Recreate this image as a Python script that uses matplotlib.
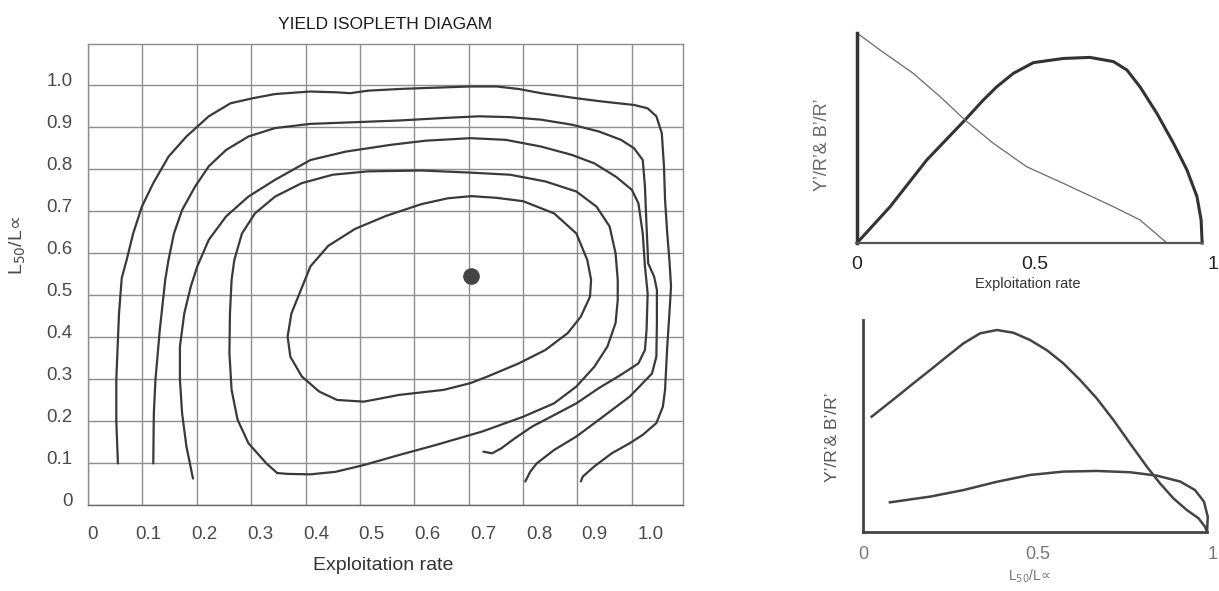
import numpy as np
import matplotlib
matplotlib.use("Agg")
import matplotlib.pyplot as plt

plt.rcParams['font.family'] = ['Liberation Sans', 'DejaVu Sans']

#------------------------------------------------
# data (E = exploitation rate, L50/Loo)
grid_x = [0, 0.1, 0.2, 0.3, 0.4, 0.5, 0.6, 0.7, 0.8, 0.9, 1.0]
grid_y = [0, 0.1, 0.2, 0.3, 0.4, 0.5, 0.6, 0.7, 0.8, 0.9, 1.0]
xtick_labels = ['0', '0.1', '0.2', '0.3', '0.4', '0.5', '0.6', '0.7', '0.8', '0.9', '1.0']
ytick_labels = ['0', '0.1', '0.2', '0.3', '0.4', '0.5', '0.6', '0.7', '0.8', '0.9', '1.0']

# isopleth 1 (outermost)
iso1_x = [0.055, 0.052, 0.052, 0.057, 0.062, 0.071, 0.083, 0.099, 0.120, 0.148, 0.181, 0.222, 0.262,
          0.303, 0.344, 0.409, 0.458, 0.482, 0.515, 0.572, 0.613, 0.703, 0.751, 0.792, 0.833, 0.898,
          0.947, 1.004, 1.029, 1.045, 1.055, 1.059, 1.061, 1.065, 1.069, 1.072, 1.069, 1.065, 1.061,
          1.057, 1.045, 1.020, 0.996, 0.963, 0.931, 0.910, 0.906]
iso1_y = [0.099, 0.200, 0.298, 0.456, 0.540, 0.583, 0.646, 0.710, 0.766, 0.829, 0.877, 0.925, 0.956,
          0.968, 0.978, 0.984, 0.982, 0.980, 0.986, 0.990, 0.992, 0.996, 0.996, 0.990, 0.980, 0.968,
          0.960, 0.952, 0.944, 0.925, 0.885, 0.806, 0.726, 0.647, 0.583, 0.520, 0.456, 0.377, 0.274,
          0.234, 0.195, 0.167, 0.147, 0.123, 0.092, 0.068, 0.056]

# isopleth 2
iso2_x = [0.120, 0.121, 0.124, 0.132, 0.142, 0.148, 0.158, 0.173, 0.197, 0.222, 0.254, 0.295, 0.344,
          0.409, 0.491, 0.572, 0.654, 0.719, 0.776, 0.833, 0.890, 0.939, 0.980, 1.004, 1.020, 1.024,
          1.027, 1.030, 1.041, 1.046, 1.046, 1.045, 1.037, 1.020, 0.996, 0.955, 0.898, 0.857, 0.825,
          0.813, 0.804]
iso2_y = [0.099, 0.218, 0.298, 0.417, 0.536, 0.583, 0.646, 0.702, 0.758, 0.806, 0.845, 0.877, 0.897,
          0.907, 0.911, 0.915, 0.921, 0.925, 0.923, 0.917, 0.905, 0.889, 0.869, 0.849, 0.821, 0.758,
          0.662, 0.575, 0.543, 0.512, 0.433, 0.353, 0.313, 0.290, 0.258, 0.218, 0.163, 0.131, 0.099,
          0.079, 0.056]

# isopleth 3
iso3_x = [0.193, 0.181, 0.173, 0.169, 0.169, 0.177, 0.189, 0.201, 0.222, 0.254, 0.295, 0.344, 0.409,
          0.474, 0.556, 0.621, 0.703, 0.768, 0.833, 0.890, 0.931, 0.971, 1.000, 1.012, 1.020, 1.024,
          1.029, 1.027, 1.024, 1.012, 0.980, 0.939, 0.898, 0.857, 0.817, 0.784, 0.760, 0.743, 0.727]
iso3_y = [0.063, 0.139, 0.218, 0.298, 0.377, 0.456, 0.520, 0.568, 0.631, 0.687, 0.734, 0.774, 0.821,
          0.841, 0.857, 0.867, 0.873, 0.869, 0.853, 0.833, 0.813, 0.781, 0.750, 0.718, 0.646, 0.568,
          0.504, 0.417, 0.369, 0.337, 0.310, 0.278, 0.242, 0.214, 0.187, 0.158, 0.135, 0.123, 0.127]

# isopleth 4 (closed, corner at lower left)
iso4_x = [0.348, 0.328, 0.295, 0.275, 0.264, 0.260, 0.261, 0.264, 0.269, 0.283, 0.307, 0.344, 0.393,
          0.450, 0.515, 0.613, 0.703, 0.776, 0.841, 0.898, 0.935, 0.959, 0.970, 0.974, 0.974, 0.970,
          0.955, 0.931, 0.898, 0.857, 0.800, 0.725, 0.640, 0.572, 0.507, 0.455, 0.409, 0.368, 0.348]
iso4_y = [0.076, 0.099, 0.147, 0.203, 0.274, 0.361, 0.456, 0.536, 0.583, 0.646, 0.694, 0.734, 0.766,
          0.786, 0.794, 0.796, 0.791, 0.786, 0.770, 0.746, 0.710, 0.663, 0.599, 0.536, 0.488, 0.433,
          0.377, 0.329, 0.282, 0.242, 0.210, 0.175, 0.143, 0.119, 0.095, 0.079, 0.073, 0.074, 0.076]

# isopleth 5 (innermost, closed)
iso5_x = [0.705, 0.751, 0.800, 0.857, 0.898, 0.918, 0.925, 0.923, 0.906, 0.882, 0.841, 0.792, 0.735,
          0.703, 0.654, 0.572, 0.540, 0.507, 0.458, 0.425, 0.393, 0.372, 0.367, 0.374, 0.389, 0.409,
          0.442, 0.491, 0.548, 0.613, 0.662, 0.705]
iso5_y = [0.735, 0.731, 0.723, 0.694, 0.646, 0.583, 0.536, 0.496, 0.448, 0.409, 0.369, 0.337, 0.306,
          0.290, 0.274, 0.262, 0.254, 0.246, 0.250, 0.270, 0.306, 0.353, 0.401, 0.456, 0.504, 0.568,
          0.617, 0.657, 0.688, 0.716, 0.730, 0.735]

optimum_x = [0.705]
optimum_y = [0.545]

# yield curve Y'/R' and biomass curve B'/R' vs exploitation rate
yr_e = [0.0, 0.096, 0.202, 0.313, 0.366, 0.405, 0.453, 0.511, 0.598, 0.675, 0.743, 0.782, 0.820,
        0.869, 0.917, 0.956, 0.985, 0.997, 1.0]
yr_val = [0.0, 0.173, 0.395, 0.586, 0.681, 0.744, 0.808, 0.859, 0.879, 0.884, 0.864, 0.824, 0.744,
          0.617, 0.475, 0.348, 0.221, 0.110, 0.0]
br_e = [0.0, 0.067, 0.163, 0.241, 0.313, 0.395, 0.492, 0.598, 0.743, 0.820, 0.898]
br_val = [1.0, 0.919, 0.808, 0.697, 0.586, 0.475, 0.363, 0.284, 0.173, 0.110, 0.0]

# same vs L50/Loo
yr_c = [0.025, 0.098, 0.146, 0.195, 0.243, 0.292, 0.340, 0.389, 0.437, 0.485, 0.534, 0.582, 0.631,
        0.679, 0.728, 0.776, 0.825, 0.863, 0.902, 0.941, 0.975, 0.994, 1.0]
yr_c_val = [0.544, 0.638, 0.701, 0.764, 0.827, 0.890, 0.937, 0.953, 0.940, 0.906, 0.858, 0.796, 0.717,
            0.631, 0.528, 0.418, 0.308, 0.230, 0.159, 0.104, 0.065, 0.025, 0.0]
br_c = [0.078, 0.195, 0.292, 0.389, 0.485, 0.582, 0.679, 0.776, 0.854, 0.922, 0.965, 0.991, 1.002, 1.0]
br_c_val = [0.140, 0.167, 0.198, 0.237, 0.269, 0.285, 0.288, 0.282, 0.266, 0.238, 0.198, 0.143,
            0.072, 0.0]

small_ticks = [0, 0.5, 1]
small_labels = ['0', '0.5', '1']

l50_label = 'L$_{50}$/L$\u221d$'

#------------------------------------------------
line_col = '#3a3a3a'
grid_col = '#8e8e8e'
text_col = '#4a4a4a'

fig = plt.figure(figsize=(12.19, 5.91), dpi=100, facecolor='white')

# main isopleth diagram
ax = fig.add_axes([0.0722, 0.1455, 0.4881, 0.780])
ax.set_xlim(0, 1.094)
ax.set_ylim(0, 1.097)
ax.set_xticks(grid_x, minor=True)
ax.set_yticks(grid_y, minor=True)
ax.grid(which='minor', color=grid_col, lw=1.0)
# labels in the original sit a little off the grid lines
ax.set_xticks([0.009 + 1.025 * v for v in grid_x])
ax.set_xticklabels(xtick_labels)
ax.set_yticks([v + 0.012 for v in grid_y])
ax.set_yticklabels(ytick_labels)
ax.tick_params(which='both', length=0)
ax.tick_params(axis='x', pad=15, labelsize=13.5, labelcolor=text_col)
ax.tick_params(axis='y', pad=11, labelsize=13.5, labelcolor=text_col)
for s in ax.spines.values():
    s.set_color(grid_col)
    s.set_linewidth(1.0)
ax.spines['bottom'].set_color('#6a6a6a')

for xs, ys in [(iso1_x, iso1_y), (iso2_x, iso2_y), (iso3_x, iso3_y), (iso4_x, iso4_y), (iso5_x, iso5_y)]:
    ax.plot(xs, ys, color=line_col, lw=1.6, solid_joinstyle='round', solid_capstyle='round')
ax.plot(optimum_x, optimum_y, 'o', color='#444444', ms=11, mec='#444444')

ax.set_title('YIELD ISOPLETH DIAGAM', fontsize=12.5, color='#1a1a1a', pad=11)
ax.set_xlabel('Exploitation rate', fontsize=14, color='#333333')
ax.xaxis.set_label_coords(0.496, -0.113)
ax.set_ylabel(l50_label, fontsize=14, color=text_col, va='center')
ax.yaxis.set_label_coords(-0.118, 0.564)

# Y'/R' and B'/R' vs exploitation rate
ax2 = fig.add_axes([0.7030, 0.5888, 0.2945, 0.3553])
ax2.set_xlim(0, 1.04)
ax2.set_ylim(0, 1.0)
ax2.plot(yr_e, yr_val, color='#333333', lw=2.2, clip_on=False)
ax2.plot(br_e, br_val, color='#6a6a6a', lw=0.9, clip_on=False)
ax2.spines['top'].set_visible(False)
ax2.spines['right'].set_visible(False)
ax2.spines['left'].set_color('#333333')
ax2.spines['left'].set_linewidth(2.5)
ax2.spines['bottom'].set_color('#555555')
ax2.spines['bottom'].set_linewidth(1.6)
ax2.spines['bottom'].set_bounds(0, 1)
ax2.set_xticks([v * 1.03 for v in small_ticks])
ax2.set_xticklabels(small_labels)
ax2.set_yticks([])
ax2.tick_params(axis='x', length=0, pad=9, labelsize=14, labelcolor='#222222')
ax2.set_xlabel('Exploitation rate', fontsize=10.5, color='#333333')
ax2.xaxis.set_label_coords(0.476, -0.16)
ax2.set_ylabel('Y\u2019/R\u2019& B\u2019/R\u2019', fontsize=13, color='#666666', va='center')
ax2.yaxis.set_label_coords(-0.095, 0.467)

# Y'/R' and B'/R' vs L50/Loo
ax3 = fig.add_axes([0.7080, 0.0998, 0.2935, 0.3587])
ax3.set_xlim(0, 1.04)
ax3.set_ylim(0, 1.0)
ax3.plot(yr_c, yr_c_val, color='#444444', lw=1.8, clip_on=False)
ax3.plot(br_c, br_c_val, color='#444444', lw=1.8, clip_on=False)
ax3.spines['top'].set_visible(False)
ax3.spines['right'].set_visible(False)
ax3.spines['left'].set_color('#444444')
ax3.spines['left'].set_linewidth(2.0)
ax3.spines['bottom'].set_color('#444444')
ax3.spines['bottom'].set_linewidth(2.0)
ax3.spines['bottom'].set_bounds(0, 1)
ax3.set_xticks([v * 1.015 for v in small_ticks])
ax3.set_xticklabels(small_labels)
ax3.set_yticks([])
ax3.tick_params(axis='x', length=0, pad=10, labelsize=13, labelcolor='#777777')
ax3.set_xlabel(l50_label, fontsize=10, color='#777777')
ax3.xaxis.set_label_coords(0.466, -0.17)
ax3.set_ylabel('Y\u2019/R\u2019& B\u2019/R\u2019', fontsize=12.5, color='#555555', va='center')
ax3.yaxis.set_label_coords(-0.084, 0.448)

fig.savefig('out.png', dpi=100, facecolor='white')
